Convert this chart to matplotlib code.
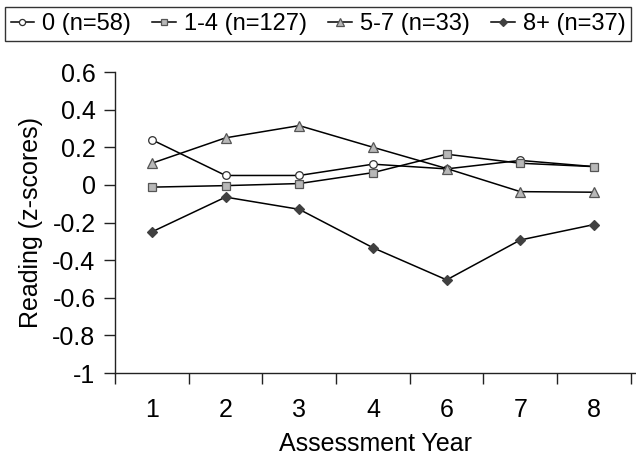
import numpy as np
import matplotlib
matplotlib.use("Agg")
import matplotlib.pyplot as plt

plt.rcParams['font.family'] = ['Liberation Sans', 'DejaVu Sans']

# categories on the x axis
years = ['1', '2', '3', '4', '6', '7', '8']

# reading z-scores per group
grp_0 = [0.24, 0.05, 0.05, 0.11, 0.085, 0.13, 0.097]
grp_1_4 = [-0.012, -0.004, 0.007, 0.065, 0.163, 0.115, 0.097]
grp_5_7 = [0.115, 0.25, 0.315, 0.2, 0.087, -0.036, -0.039]
grp_8p = [-0.25, -0.065, -0.13, -0.334, -0.505, -0.293, -0.211]

labels = ['0 (n=58)', '1-4 (n=127)', '5-7 (n=33)', '8+ (n=37)']

fs = 18

fig = plt.figure(figsize=(6.36, 4.61), dpi=100)
ax = fig.add_axes([115/636, 1 - 373/461, 521/636, (373 - 72)/461])

x = np.arange(1, len(years) + 1)
ax.plot(x, grp_0, color='black', lw=1.1, marker='o', ms=5.5, mfc='white', mec='#303030', mew=0.9, label=labels[0])
ax.plot(x, grp_1_4, color='black', lw=1.1, marker='s', ms=5.5, mfc='#b8b8b8', mec='#555555', mew=0.9, label=labels[1])
ax.plot(x, grp_5_7, color='black', lw=1.1, marker='^', ms=6.5, mfc='#b8b8b8', mec='#555555', mew=0.9, label=labels[2])
ax.plot(x, grp_8p, color='black', lw=1.1, marker='D', ms=5, mfc='#404040', mec='#404040', mew=0.9, label=labels[3])

ax.set_xlim(0.5, 7.57)
ax.set_ylim(-1, 0.6)
ax.set_yticks(np.arange(-1, 0.61, 0.2))
ax.set_yticklabels(['-1', '-0.8', '-0.6', '-0.4', '-0.2', '0', '0.2', '0.4', '0.6'])
ax.set_xticks(x)
ax.set_xticklabels(years)
ax.set_xticks(np.arange(0.5, 8, 1), minor=True)
ax.tick_params(axis='x', which='major', length=0, pad=18, labelsize=fs)
ax.tick_params(axis='x', which='minor', length=8, width=1, direction='out', color='#222222')
ax.tick_params(axis='y', length=8, width=1, direction='out', labelsize=fs, color='#222222', pad=6)

for s in ['top', 'right']:
    ax.spines[s].set_visible(False)
for s in ['left', 'bottom']:
    ax.spines[s].set_color('#222222')
    ax.spines[s].set_linewidth(1)

ax.set_ylabel('Reading (z-scores)', fontsize=fs, labelpad=7)
ax.set_xlabel('Assessment Year', fontsize=fs, labelpad=7)

leg = fig.legend(loc='upper center', bbox_to_anchor=(0.5, 1 - 7/461), ncol=4, fontsize=17,
                 frameon=True, fancybox=False, edgecolor='black', handlelength=1.0,
                 handletextpad=0.34, columnspacing=0.9, borderpad=0.25, borderaxespad=0,
                 markerscale=0.8)
leg.get_frame().set_linewidth(1)

fig.savefig('out.png', dpi=100)
